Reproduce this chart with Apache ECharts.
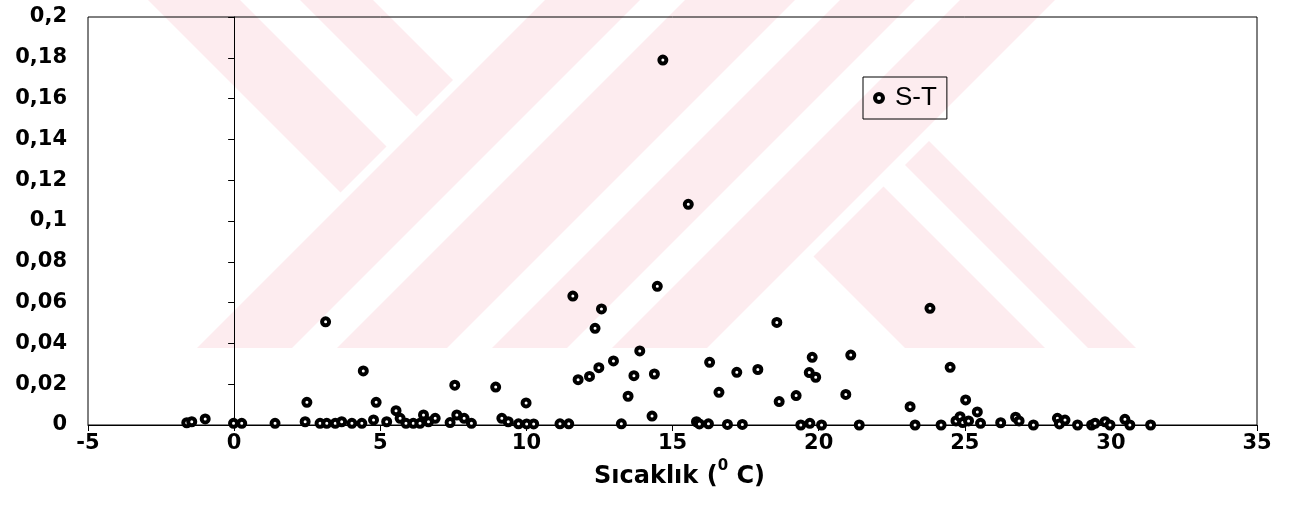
<!DOCTYPE html>
<html>
<head>
<meta charset="utf-8">
<script src="https://cdn.jsdelivr.net/npm/echarts@6/dist/echarts.min.js"></script>
<style>
  html, body { margin: 0; padding: 0; background: #fff; }
  #chart { width: 1291px; height: 515px; }
</style>
</head>
<body>
<div id="chart"></div>
<script>
// Temperature (°C) and sediment amount (x10^6 ton/year), one entry per observation
const temperature = [
  -1.62, -1.45, -0.99, -0.02, 0.26, 1.40, 2.43, 2.49, 2.94, 3.13,
  3.17, 3.46, 3.68, 4.03, 4.37, 4.42, 4.77, 4.86, 5.22, 5.54,
  5.68, 5.88, 6.13, 6.36, 6.48, 6.65, 6.88, 7.39, 7.55, 7.62,
  7.87, 8.12, 8.95, 9.16, 9.38, 9.73, 9.99, 10.01, 10.25, 11.15,
  11.45, 11.59, 11.77, 12.16, 12.35, 12.48, 12.57, 12.98, 13.25, 13.48,
  13.68, 13.88, 14.30, 14.38, 14.48, 14.67, 15.54, 15.82, 15.92, 16.23,
  16.27, 16.59, 16.88, 17.20, 17.39, 17.92, 18.57, 18.65, 19.23, 19.39,
  19.68, 19.70, 19.78, 19.90, 20.10, 20.93, 21.10, 21.39, 23.13, 23.30,
  23.81, 24.19, 24.50, 24.70, 24.84, 24.93, 25.03, 25.13, 25.43, 25.54,
  26.23, 26.74, 26.86, 27.35, 28.17, 28.24, 28.43, 28.86, 29.34, 29.46,
  29.80, 29.97, 30.48, 30.65, 31.36
];
const sediment = [
  0.0011, 0.0016, 0.0030, 0.0008, 0.0008, 0.0008, 0.0016, 0.0111, 0.0008, 0.0506,
  0.0008, 0.0008, 0.0016, 0.0008, 0.0008, 0.0265, 0.0025, 0.0111, 0.0016, 0.0070,
  0.0033, 0.0008, 0.0008, 0.0008, 0.0049, 0.0016, 0.0033, 0.0012, 0.0195, 0.0049,
  0.0033, 0.0008, 0.0186, 0.0033, 0.0016, 0.0006, 0.0108, 0.0005, 0.0005, 0.0006,
  0.0006, 0.0632, 0.0222, 0.0238, 0.0474, 0.0281, 0.0569, 0.0314, 0.0006, 0.0141,
  0.0242, 0.0363, 0.0044, 0.0250, 0.0680, 0.1789, 0.1082, 0.0016, 0.0005, 0.0006,
  0.0307, 0.0160, 0.0003, 0.0258, 0.0003, 0.0272, 0.0503, 0.0115, 0.0144, 0.0000,
  0.0257, 0.0008, 0.0332, 0.0234, 0.0000, 0.0150, 0.0343, 0.0000, 0.0090, 0.0000,
  0.0572, 0.0000, 0.0283, 0.0020, 0.0041, 0.0012, 0.0123, 0.0020, 0.0064, 0.0008,
  0.0011, 0.0038, 0.0020, 0.0000, 0.0033, 0.0005, 0.0024, 0.0000, 0.0000, 0.0008,
  0.0016, 0.0000, 0.0028, 0.0000, 0.0000
];
const seriesName = 'S-T';
const xTicks = { min: -5, max: 35, step: 5 };
const yTicks = { min: 0, max: 0.2, step: 0.02 };

const points = temperature.map((t, i) => [t, sediment[i]]);

// Pale emblem behind the plot, built from diagonal stripes clipped to the upper band
function clip(poly, a, b, c) {
  // keep the part of poly where a*x + b*y <= c
  const out = [];
  for (let i = 0; i < poly.length; i++) {
    const p = poly[i], q = poly[(i + 1) % poly.length];
    const fp = a * p[0] + b * p[1] - c, fq = a * q[0] + b * q[1] - c;
    if (fp <= 0) out.push(p);
    if ((fp < 0 && fq > 0) || (fp > 0 && fq < 0)) {
      const t = fp / (fp - fq);
      out.push([p[0] + t * (q[0] - p[0]), p[1] + t * (q[1] - p[1])]);
    }
  }
  return out;
}
function stripe(limits) {
  let poly = [[0, 0], [1291, 0], [1291, 348], [0, 348]];
  const { uMin, uMax, vMin, vMax } = limits;
  if (uMin != null) poly = clip(poly, -1, -1, -uMin);
  if (uMax != null) poly = clip(poly, 1, 1, uMax);
  if (vMin != null) poly = clip(poly, -1, 1, -vMin);
  if (vMax != null) poly = clip(poly, 1, -1, vMax);
  return poly;
}
const emblemParts = [
  { uMin: 545, uMax: 640 }, { uMin: 685, uMax: 795 },
  { uMin: 840, uMax: 915 }, { uMin: 960, uMax: 1055 },
  { vMin: 148, vMax: 240, uMax: 533 }, { vMin: 300, vMax: 373, uMax: 533 },
  { vMin: 557, vMax: 697, uMin: 1070 }, { vMin: 740, vMax: 788, uMin: 1070 }
];
const emblem = emblemParts.map(p => ({
  type: 'polygon', silent: true, z: -10,
  shape: { points: stripe(p) },
  style: { fill: '#fdecef' }
}));

const labelFont = { fontFamily: 'DejaVu Sans', fontWeight: 'bold', fontSize: 21, color: '#000' };

const chart = echarts.init(document.getElementById('chart'), null, { renderer: 'canvas' });
chart.setOption({
  backgroundColor: '#fff',
  animation: false,
  graphic: emblem,
  grid: {
    left: 88, right: 34, top: 17, bottom: 90,
    containLabel: false,
    outerBoundsMode: 'none',
    show: true, borderColor: '#000', borderWidth: 1, backgroundColor: 'transparent'
  },
  legend: {
    data: [{ name: seriesName, icon: 'circle' }],
    left: 863, top: 77,
    orient: 'vertical',
    padding: [8, 10, 8, 10],
    itemWidth: 8, itemHeight: 8,
    itemStyle: { color: '#fff', borderColor: '#000', borderWidth: 4 },
    borderColor: '#000', borderWidth: 1,
    backgroundColor: 'transparent',
    textStyle: { fontFamily: 'Liberation Sans', fontSize: 26, color: '#000', padding: [0, 0, 0, 7] }
  },
  xAxis: {
    type: 'value',
    min: xTicks.min, max: xTicks.max, interval: xTicks.step,
    axisLine: { onZero: false, lineStyle: { color: '#000', width: 1 } },
    axisTick: { show: true, length: 6, lineStyle: { color: '#000' } },
    splitLine: { show: false },
    axisLabel: Object.assign({ margin: 8 }, labelFont),
    name: '{a|Sıcaklık (}{s|0}{a| C)}',
    nameLocation: 'middle',
    nameGap: 24,
    nameTextStyle: {
      padding: [0, 0, 0, 14],
      rich: {
        a: { fontFamily: 'DejaVu Sans', fontWeight: 'bold', fontSize: 24, color: '#000', lineHeight: 30, verticalAlign: 'bottom' },
        s: { fontFamily: 'DejaVu Sans', fontWeight: 'bold', fontSize: 15, color: '#000', lineHeight: 30, verticalAlign: 'top' }
      }
    }
  },
  yAxis: {
    type: 'value',
    min: yTicks.min, max: yTicks.max, interval: yTicks.step,
    axisLine: { show: true, onZero: true, lineStyle: { color: '#000', width: 1 } },
    axisTick: { show: true, length: 6, lineStyle: { color: '#000' } },
    splitLine: { show: false },
    axisLabel: Object.assign({
      margin: 21,
      formatter: v => (v === 0 ? '0' : String(+v.toFixed(2)).replace('.', ','))
    }, labelFont),
    name: '{a|Sediment Miktarı (x10}{s|6}{a|Ton/Yıl)}',
    nameLocation: 'middle',
    nameRotate: 90,
    nameGap: 198,
    nameTextStyle: {
      rich: {
        a: { fontFamily: 'DejaVu Sans', fontWeight: 'bold', fontSize: 20, color: '#000', lineHeight: 26, verticalAlign: 'bottom' },
        s: { fontFamily: 'DejaVu Sans', fontWeight: 'bold', fontSize: 13, color: '#000', lineHeight: 26, verticalAlign: 'top' }
      }
    }
  },
  series: [{
    name: seriesName,
    type: 'scatter',
    data: points,
    clip: false,
    symbol: 'circle',
    symbolSize: 7,
    itemStyle: { color: '#fff', borderColor: '#000', borderWidth: 4, opacity: 1 }
  }]
});
</script>
</body>
</html>
